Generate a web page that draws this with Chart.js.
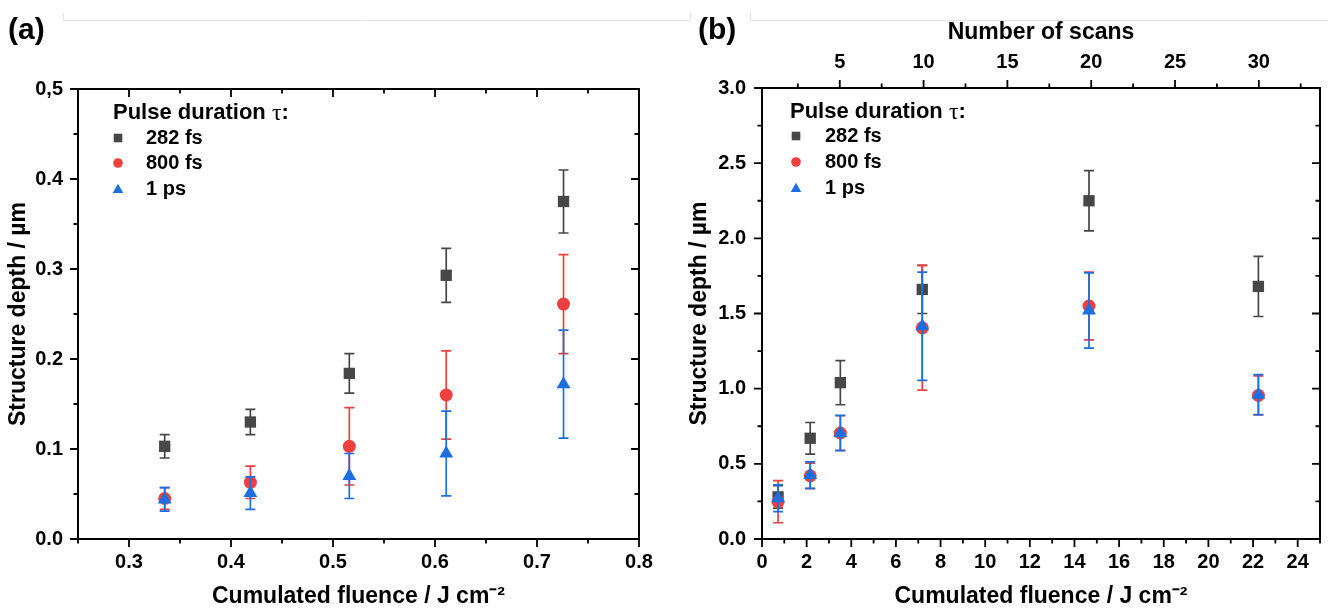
<!DOCTYPE html>
<html>
<head>
<meta charset="utf-8">
<script src="https://cdn.jsdelivr.net/npm/chart.js@4.4.1/dist/chart.umd.min.js"></script>
<style>
  html, body { margin: 0; padding: 0; background: #fff; }
  #wrap { position: relative; width: 1328px; height: 608px; overflow: hidden; }
  .panel { position: absolute; top: 0; width: 664px; height: 608px; }
</style>
</head>
<body>
<div id="wrap">
  <div class="panel" style="left:0"><canvas id="chartA" width="664" height="608"></canvas></div>
  <div class="panel" style="left:664px"><canvas id="chartB" width="664" height="608"></canvas></div>
</div>
<script>
// series (same for both panels)
const seriesNames = ['282 fs', '800 fs', '1 ps'];
const seriesColors = ['#474747', '#ef4040', '#1b6fe0'];
const seriesStyles = ['rect', 'circle', 'triangle'];
const seriesRadius = [8, 6.5, 8];

// panel (a): depth vs cumulated fluence
const fluenceA = [0.335, 0.419, 0.516, 0.611, 0.726];
const depth282A = [0.103, 0.130, 0.184, 0.293, 0.375];
const err282A = [0.013, 0.014, 0.022, 0.030, 0.035];
const depth800A = [0.045, 0.063, 0.103, 0.160, 0.261];
const err800A = [0.012, 0.018, 0.043, 0.049, 0.055];
const depth1psA = [0.044, 0.051, 0.070, 0.095, 0.172];
const err1psA = [0.013, 0.018, 0.025, 0.047, 0.060];
const xTicksA = [0.3, 0.4, 0.5, 0.6, 0.7, 0.8];
const yTicksA = [0, 0.1, 0.2, 0.3, 0.4, 0.5];
const yLabelsA = ['0.0', '0.1', '0.2', '0.3', '0.4', '0,5'];

// panel (b): depth vs cumulated fluence / number of scans
const fluenceB = [0.72, 2.16, 3.51, 7.18, 14.65, 22.24];
const depth282B = [0.28, 0.67, 1.04, 1.66, 2.25, 1.68];
const err282B = [0.075, 0.105, 0.147, 0.16, 0.20, 0.20];
const depth800B = [0.248, 0.42, 0.705, 1.405, 1.55, 0.955];
const err800B = [0.14, 0.085, 0.115, 0.415, 0.225, 0.13];
const depth1psB = [0.271, 0.425, 0.705, 1.415, 1.52, 0.96];
const err1psB = [0.089, 0.088, 0.117, 0.36, 0.25, 0.133];
const xTicksB = [0, 2, 4, 6, 8, 10, 12, 14, 16, 18, 20, 22, 24];
const yTicksB = [0, 0.5, 1.0, 1.5, 2.0, 2.5, 3.0];
const scanTicks = [5, 10, 15, 20, 25, 30];

const FAMILY = '"Liberation Sans", Arial, sans-serif';
const tickFont = { family: FAMILY, size: 20, weight: 'bold' };
const titleFont = { family: FAMILY, size: 23, weight: 'bold', lineHeight: 1.0 };

function makeSets(xs, ysList, errList) {
  return ysList.map((ys, k) => ({
    label: seriesNames[k],
    data: xs.map((x, i) => ({ x: x, y: ys[i] })),
    errors: errList[k],
    pointStyle: seriesStyles[k],
    pointRadius: seriesRadius[k],
    pointHoverRadius: seriesRadius[k],
    backgroundColor: seriesColors[k],
    borderColor: seriesColors[k],
    borderWidth: 0,
    showLine: false,
    order: 3 - k
  }));
}

function drawMarker(ctx, style, x, y, s) {
  ctx.beginPath();
  if (style === 'rect') {
    ctx.rect(x - s, y - s, 2 * s, 2 * s);
  } else if (style === 'circle') {
    ctx.arc(x, y, s, 0, Math.PI * 2);
  } else {
    ctx.moveTo(x, y - s * 1.15);
    ctx.lineTo(x + s * 1.15, y + s * 0.85);
    ctx.lineTo(x - s * 1.15, y + s * 0.85);
    ctx.closePath();
  }
  ctx.fill();
}

function tickMarks(ctx, scale, majors, minorStep, side, dir, area) {
  const list = majors.map(v => [v, 8]);
  let v = Math.ceil(scale.min / minorStep - 1e-9) * minorStep;
  for (; v <= scale.max + 1e-9; v += minorStep) {
    if (!majors.some(m => Math.abs(m - v) < 1e-6)) list.push([v, 4.5]);
  }
  ctx.beginPath();
  list.forEach(([val, len]) => {
    const p = scale.getPixelForValue(val);
    if (side === 'bottom' || side === 'top') {
      const y0 = side === 'bottom' ? area.bottom : area.top;
      const sgn = (side === 'bottom') === (dir === 'out') ? 1 : -1;
      ctx.moveTo(p, y0);
      ctx.lineTo(p, y0 + sgn * len);
    } else {
      const x0 = side === 'left' ? area.left : area.right;
      const sgn = (side === 'left') === (dir === 'out') ? -1 : 1;
      ctx.moveTo(x0, p);
      ctx.lineTo(x0 + sgn * len, p);
    }
  });
  ctx.stroke();
}

const framePlugin = {
  id: 'frame',
  beforeDatasetDraw(chart, args) {
    const ds = chart.data.datasets[args.index];
    if (!ds.errors) return;
    const ctx = chart.ctx, xs = chart.scales.x, ys = chart.scales.y;
    ctx.save();
    ctx.strokeStyle = ds.borderColor;
    ctx.lineWidth = 1.7;
    ctx.beginPath();
    ds.data.forEach((p, i) => {
      const e = ds.errors[i];
      const x = xs.getPixelForValue(p.x);
      const y1 = ys.getPixelForValue(p.y + e);
      const y2 = ys.getPixelForValue(p.y - e);
      ctx.moveTo(x, y1); ctx.lineTo(x, y2);
      ctx.moveTo(x - 5, y1); ctx.lineTo(x + 5, y1);
      ctx.moveTo(x - 5, y2); ctx.lineTo(x + 5, y2);
    });
    ctx.stroke();
    ctx.restore();
  },
  afterDraw(chart, args, o) {
    const ctx = chart.ctx, a = chart.chartArea;
    ctx.save();
    // faint page lines
    ctx.strokeStyle = '#e4e4e4';
    ctx.lineWidth = 1;
    ctx.beginPath();
    o.faint.forEach(s => { ctx.moveTo(s[0], s[1]); ctx.lineTo(s[2], s[3]); });
    ctx.stroke();

    // frame and tick marks
    ctx.strokeStyle = '#000';
    ctx.lineWidth = 2;
    ctx.strokeRect(a.left, a.top, a.right - a.left, a.bottom - a.top);
    ctx.lineWidth = 1.8;
    const sx = chart.scales.x, sy = chart.scales.y;
    tickMarks(ctx, sx, o.xMajors, o.xMinor, 'bottom', 'out', a);
    tickMarks(ctx, sy, o.yMajors, o.yMinor, 'left', 'out', a);
    tickMarks(ctx, sy, o.yMajors, o.yMinor, 'right', 'in', a);
    if (chart.scales.x2) {
      tickMarks(ctx, chart.scales.x2, o.topMajors, o.topMinor, 'top', 'out', a);
    } else {
      tickMarks(ctx, sx, o.xMajors, o.xMinor, 'top', 'in', a);
    }

    // panel label
    ctx.fillStyle = '#000';
    ctx.textBaseline = 'middle';
    ctx.font = 'bold 30px ' + FAMILY;
    ctx.fillText(o.label, o.labelX, o.labelY);

    // legend
    const L = o.legend;
    ctx.font = 'bold 22px ' + FAMILY;
    const head = 'Pulse duration ';
    ctx.fillText(head, L.x, L.y);
    let w = ctx.measureText(head).width;
    ctx.font = '24px "Liberation Serif", serif';
    ctx.fillText('τ', L.x + w, L.y + 1);
    w += ctx.measureText('τ').width;
    ctx.font = 'bold 22px ' + FAMILY;
    ctx.fillText(':', L.x + w, L.y);
    ctx.font = 'bold 20px ' + FAMILY;
    seriesNames.forEach((name, k) => {
      const y = L.rows[k];
      ctx.fillStyle = seriesColors[k];
      drawMarker(ctx, seriesStyles[k], L.mx, y, [4.3, 4.8, 4.6][k]);
      ctx.fillStyle = '#000';
      ctx.fillText(name, L.tx, y);
    });
    ctx.restore();
  }
};

function findLabel(ticks, labels, v) {
  const i = ticks.findIndex(t => Math.abs(t - v) < 1e-9);
  return i >= 0 ? labels[i] : '';
}

new Chart(document.getElementById('chartA'), {
  type: 'scatter',
  data: { datasets: makeSets(fluenceA, [depth282A, depth800A, depth1psA], [err282A, err800A, err1psA]) },
  options: {
    responsive: false,
    animation: false,
    devicePixelRatio: 1,
    layout: { padding: { top: 89, right: 25, left: 0, bottom: 0 } },
    plugins: {
      legend: { display: false },
      tooltip: { enabled: false },
      frame: {
        label: '(a)', labelX: 8, labelY: 31,
        xMajors: xTicksA, xMinor: 0.05, yMajors: yTicksA, yMinor: 0.05,
        legend: { x: 113, y: 113, mx: 118, tx: 146, rows: [138, 163, 189] },
        faint: [[63, 20.5, 664, 20.5], [63.5, 13, 63.5, 20]]
      }
    },
    scales: {
      x: {
        type: 'linear', position: 'bottom', min: 0.25, max: 0.8,
        grid: { display: false, drawTicks: false }, border: { display: false },
        afterBuildTicks: s => { s.ticks = xTicksA.map(v => ({ value: v })); },
        afterFit: s => { s.height = 69; },
        ticks: { color: '#000', font: tickFont, padding: 11, maxRotation: 0, callback: v => v.toFixed(1) },
        title: { display: true, text: 'Cumulated fluence / J cm⁻²', color: '#000', font: titleFont, padding: { top: 0, bottom: 0 } }
      },
      y: {
        type: 'linear', position: 'left', min: 0, max: 0.5,
        grid: { display: false, drawTicks: false }, border: { display: false },
        afterBuildTicks: s => { s.ticks = yTicksA.map(v => ({ value: v })); },
        afterFit: s => { s.width = 78; },
        ticks: { color: '#000', font: tickFont, padding: 15, callback: v => findLabel(yTicksA, yLabelsA, v) },
        title: { display: true, text: 'Structure depth / µm', color: '#000', font: titleFont, padding: { top: 7, bottom: 0 } }
      }
    }
  },
  plugins: [framePlugin]
});

new Chart(document.getElementById('chartB'), {
  type: 'scatter',
  data: { datasets: makeSets(fluenceB, [depth282B, depth800B, depth1psB], [err282B, err800B, err1psB]) },
  options: {
    responsive: false,
    animation: false,
    devicePixelRatio: 1,
    layout: { padding: { top: 0, right: 7, left: 17, bottom: 0 } },
    plugins: {
      legend: { display: false },
      tooltip: { enabled: false },
      frame: {
        label: '(b)', labelX: 34, labelY: 31,
        xMajors: xTicksB, xMinor: 1, yMajors: yTicksB, yMinor: 0.25,
        topMajors: scanTicks, topMinor: 2.5,
        legend: { x: 126, y: 112, mx: 132, tx: 161, rows: [136, 162, 188] },
        faint: [[0, 20.5, 26, 20.5], [26.5, 13, 26.5, 20], [86.5, 13, 86.5, 20], [86, 20.5, 664, 20.5]]
      }
    },
    scales: {
      x: {
        type: 'linear', position: 'bottom', min: 0, max: 25,
        grid: { display: false, drawTicks: false }, border: { display: false },
        afterBuildTicks: s => { s.ticks = xTicksB.map(v => ({ value: v })); },
        afterFit: s => { s.height = 69; },
        ticks: { color: '#000', font: tickFont, padding: 11, maxRotation: 0, callback: v => String(v) },
        title: { display: true, text: 'Cumulated fluence / J cm⁻²', color: '#000', font: titleFont, padding: { top: 0, bottom: 0 } }
      },
      x2: {
        type: 'linear', position: 'top', min: 0.36, max: 33.65,
        grid: { display: false, drawTicks: false }, border: { display: false },
        afterBuildTicks: s => { s.ticks = scanTicks.map(v => ({ value: v })); },
        afterFit: s => { s.height = 88; },
        ticks: { color: '#000', font: tickFont, padding: 14, maxRotation: 0, callback: v => String(v) },
        title: { display: true, text: 'Number of scans', color: '#000', font: titleFont, padding: { top: 21, bottom: 0 } }
      },
      y: {
        type: 'linear', position: 'left', min: 0, max: 3,
        grid: { display: false, drawTicks: false }, border: { display: false },
        afterBuildTicks: s => { s.ticks = yTicksB.map(v => ({ value: v })); },
        afterFit: s => { s.width = 81; },
        ticks: { color: '#000', font: tickFont, padding: 16, callback: v => v.toFixed(1) },
        title: { display: true, text: 'Structure depth / µm', color: '#000', font: titleFont, padding: { top: 7, bottom: 0 } }
      }
    }
  },
  plugins: [framePlugin]
});
</script>
</body>
</html>
